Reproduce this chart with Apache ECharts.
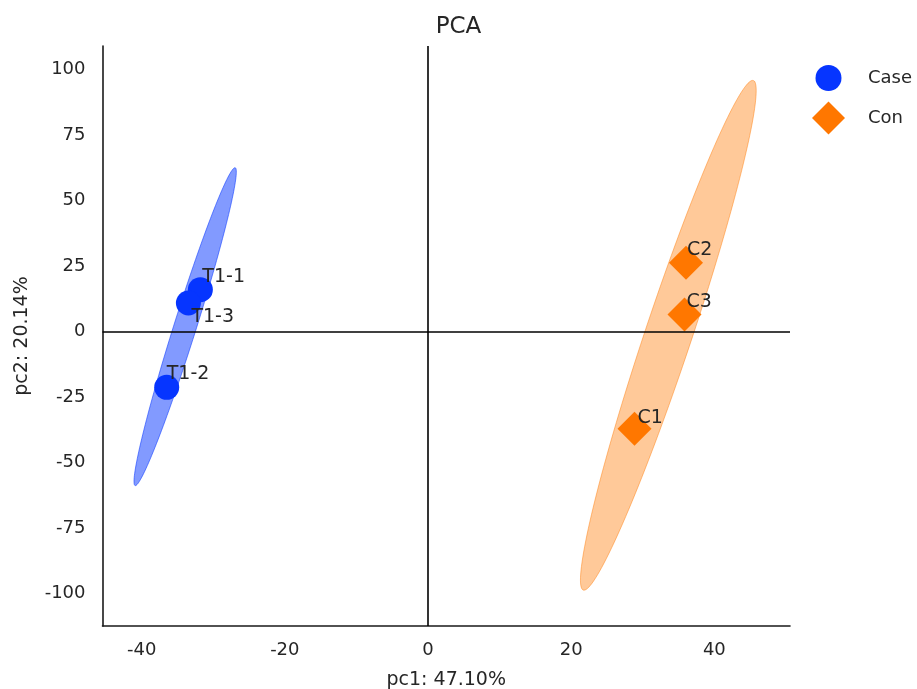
<!DOCTYPE html>
<html>
<head>
<meta charset="utf-8">
<script src="https://cdn.jsdelivr.net/npm/echarts@6/dist/echarts.min.js"></script>
<style>
html,body{margin:0;padding:0;background:#fff;}
#chart{width:917px;height:689px;}
</style>
</head>
<body>
<div id="chart"></div>
<script>
// ---- data ----
const groups = ['Case', 'Con'];
const caseNames = ['T1-1', 'T1-2', 'T1-3'];
const casePc1 = [-31.8, -36.5, -33.47];
const casePc2 = [16.0, -21.3, 10.9];
const conNames = ['C1', 'C2', 'C3'];
const conPc1 = [28.85, 36.04, 35.83];
const conPc2 = [-37.1, 26.3, 6.5];
const xTicks = [-40, -20, 0, 20, 40];
const yTicks = [-100, -75, -50, -25, 0, 25, 50, 75, 100];
const xAxisTitle = 'pc1: 47.10%';
const yAxisTitle = 'pc2: 20.14%';
const chartTitle = 'PCA';
const ellipseScale = 3; // confidence scale in standard deviations

// ---- styles ----
const FONT = 'DejaVu Sans';
const TXT = '#262626';
const colors = { Case: '#0635ff', Con: '#ff7700' };
const fillAlpha = { Case: 0.5, Con: 0.4 };
const labelOffsets = {
  'T1-1': [2, -13], 'T1-2': [0, -13], 'T1-3': [3, 14],
  'C1': [3, -11], 'C2': [1, -13], 'C3': [2, -12]
};
const legendIcons = {
  Case: 'path://M0,0M33,33M16.5,3.5A13,13,0,1,1,16.5,29.5A13,13,0,1,1,16.5,3.5Z',
  Con: 'path://M16.5,0L33,16.5L16.5,33L0,16.5Z'
};

function ellipsePoints(xs, ys, k, n) {
  const m = xs.length;
  const mx = xs.reduce((a, b) => a + b, 0) / m;
  const my = ys.reduce((a, b) => a + b, 0) / m;
  let sxx = 0, syy = 0, sxy = 0;
  for (let i = 0; i < m; i++) {
    const dx = xs[i] - mx, dy = ys[i] - my;
    sxx += dx * dx; syy += dy * dy; sxy += dx * dy;
  }
  sxx /= (m - 1); syy /= (m - 1); sxy /= (m - 1);
  const tr = sxx + syy, det = sxx * syy - sxy * sxy;
  const disc = Math.sqrt(Math.max(tr * tr / 4 - det, 0));
  const l1 = tr / 2 + disc, l2 = Math.max(tr / 2 - disc, 0);
  const theta = Math.atan2(l1 - sxx, sxy);
  const a = k * Math.sqrt(l1), b = k * Math.sqrt(l2);
  const ct = Math.cos(theta), st = Math.sin(theta);
  const pts = [];
  for (let i = 0; i < n; i++) {
    const t = 2 * Math.PI * i / n;
    const u = a * Math.cos(t), v = b * Math.sin(t);
    pts.push([mx + u * ct - v * st, my + u * st + v * ct]);
  }
  return { pts, mx, my };
}

function hexA(hex, a) {
  const r = parseInt(hex.slice(1, 3), 16), g = parseInt(hex.slice(3, 5), 16), b = parseInt(hex.slice(5, 7), 16);
  return `rgba(${r},${g},${b},${a})`;
}

const groupData = {
  Case: { names: caseNames, xs: casePc1, ys: casePc2, symbol: 'circle', size: 25 },
  Con: { names: conNames, xs: conPc1, ys: conPc2, symbol: 'diamond', size: 34 }
};

const series = [];
groups.forEach(g => {
  const gd = groupData[g];
  const ell = ellipsePoints(gd.xs, gd.ys, ellipseScale, 160);
  series.push({
    type: 'custom',
    name: g + ' ellipse',
    silent: true,
    z: 1,
    data: [[ell.mx, ell.my]],
    renderItem: function (params, api) {
      const pts = ell.pts.map(p => api.coord(p));
      return {
        type: 'polygon',
        shape: { points: pts },
        style: { fill: hexA(colors[g], fillAlpha[g]), stroke: hexA(colors[g], fillAlpha[g] + 0.05), lineWidth: 1 }
      };
    }
  });
});

series.push({
  type: 'line',
  name: 'zero',
  data: [],
  z: 2,
  silent: true,
  markLine: {
    silent: true,
    symbol: ['none', 'none'],
    label: { show: false },
    lineStyle: { color: '#000', width: 1.6, type: 'solid' },
    data: [{ xAxis: 0 }, { yAxis: 0 }]
  }
});

groups.forEach(g => {
  const gd = groupData[g];
  series.push({
    type: 'scatter',
    name: g,
    z: 3,
    symbol: gd.symbol,
    symbolSize: gd.size,
    itemStyle: { color: colors[g], opacity: 1 },
    label: {
      show: true,
      position: 'inside',
      align: 'left',
      verticalAlign: 'middle',
      formatter: p => p.name,
      fontFamily: FONT,
      fontSize: 19,
      color: TXT
    },
    data: gd.names.map((n, i) => ({
      name: n,
      value: [gd.xs[i], gd.ys[i]],
      label: { offset: labelOffsets[n] }
    }))
  });
});

const axisCommon = {
  type: 'value',
  splitLine: { show: false },
  axisTick: { show: false },
  axisLine: { show: true, onZero: false, lineStyle: { color: '#1a1a1a', width: 1.6 } },
  nameTextStyle: { fontFamily: FONT, fontSize: 19, color: TXT },
  nameLocation: 'middle'
};

const option = {
  animation: false,
  backgroundColor: '#fff',
  textStyle: { fontFamily: FONT },
  title: {
    text: chartTitle,
    left: 'center',
    top: 11,
    textStyle: { fontFamily: FONT, fontSize: 23, fontWeight: 'normal', color: TXT }
  },
  legend: {
    orient: 'vertical',
    left: 812,
    top: 61.5,
    padding: 0,
    itemWidth: 33,
    itemHeight: 33,
    itemGap: 7,
    textStyle: { fontFamily: FONT, fontSize: 18, color: TXT, padding: [0, 0, 0, 18] },
    data: groups.map(g => ({ name: g, icon: legendIcons[g] }))
  },
  grid: { left: 102.5, right: 127, top: 46, bottom: 63, containLabel: false, outerBoundsMode: 'none' },
  xAxis: Object.assign({}, axisCommon, {
    min: -45.47, max: 50.57,
    name: xAxisTitle,
    nameGap: 45,
    axisLabel: { customValues: xTicks, margin: 15, fontFamily: FONT, fontSize: 18, color: TXT }
  }),
  yAxis: Object.assign({}, axisCommon, {
    min: -112.4, max: 109,
    name: yAxisTitle,
    nameGap: 71,
    axisLabel: { customValues: yTicks, margin: 17, fontFamily: FONT, fontSize: 18, color: TXT }
  }),
  series: series
};

const chart = echarts.init(document.getElementById('chart'), null, { renderer: 'canvas' });
chart.setOption(option);
</script>
</body>
</html>
